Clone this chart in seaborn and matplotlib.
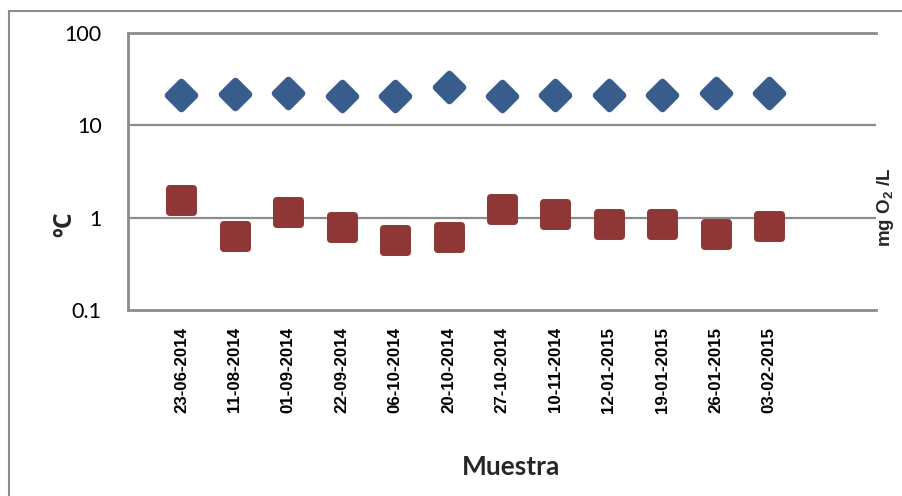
import numpy as np
import pandas as pd
import matplotlib
matplotlib.use("Agg")
import matplotlib.pyplot as plt
from matplotlib.patches import Rectangle
import seaborn as sns

# Sampling dates (category axis)
fechas = ["23-06-2014", "11-08-2014", "01-09-2014", "22-09-2014", "06-10-2014",
          "20-10-2014", "27-10-2014", "10-11-2014", "12-01-2015", "19-01-2015",
          "26-01-2015", "03-02-2015"]
# Water temperature (ºC)
temperatura = [21.1, 21.7, 22.2, 21.0, 20.6, 26.1, 20.6, 21.5, 21.5, 21.1, 22.4, 22.4]
# Dissolved oxygen (mg O2/L)
oxigeno = [1.56, 0.64, 1.14, 0.79, 0.58, 0.62, 1.24, 1.10, 0.86, 0.85, 0.67, 0.82]
# Y-axis ticks
y_ticks = [0.1, 1, 10, 100]
y_tick_labels = ["0.1", "1", "10", "100"]

sns.set_theme(style="white")
plt.rcParams["mathtext.fontset"] = "custom"
plt.rcParams["mathtext.bf"] = "Liberation Sans:bold"
plt.rcParams["mathtext.rm"] = "Liberation Sans:bold"

df_t = pd.DataFrame({"fecha": fechas, "valor": temperatura})
df_o = pd.DataFrame({"fecha": fechas, "valor": oxigeno})

W, H = 902, 496
fig = plt.figure(figsize=(W / 100, H / 100), dpi=100)
ax = fig.add_axes([128 / W, 1 - 310 / H, (876 - 128) / W, (310 - 33) / H])

blue = "#385d8c"
red = "#8e3736"

sns.scatterplot(data=df_t, x="fecha", y="valor", marker="D", s=185,
                color=blue, edgecolor=blue, linewidth=5, ax=ax, legend=False, zorder=3)
sns.scatterplot(data=df_o, x="fecha", y="valor", marker="s", s=300,
                color=red, edgecolor=red, linewidth=5, ax=ax, legend=False, zorder=3)
for coll in ax.collections:
    coll.set_joinstyle("round")

ax.set_yscale("log")
ax.set_ylim(0.1, 100)
ax.set_xlim(-1, 13)
ax.set_yticks(y_ticks)
ax.set_yticklabels(y_tick_labels)
ax.yaxis.set_minor_locator(matplotlib.ticker.NullLocator())
ax.tick_params(axis="y", length=0, pad=19, labelsize=15.5, labelcolor="black")
for lab in ax.get_yticklabels():
    lab.set_fontfamily("Lato")

ax.set_xticks(range(len(fechas)))
ax.set_xticklabels(fechas, rotation=90, va="top", ha="center")
ax.tick_params(axis="x", length=0, pad=12)
for lab in ax.get_xticklabels():
    lab.set_fontfamily("Liberation Sans")
    lab.set_fontweight("bold")
    lab.set_fontsize(12.2)
    lab.set_color("black")

ax.set_xlabel("")
ax.set_ylabel("")

# Horizontal gridlines at 1 and 10
for yv in [1, 10]:
    ax.axhline(yv, color="#8c8c8c", lw=1.6, zorder=1)

for side in ["left", "top", "bottom"]:
    ax.spines[side].set_color("#8c8c8c")
    ax.spines[side].set_linewidth(2)
ax.spines["right"].set_visible(False)

fig.text(65 / W, 1 - 224 / H, "ºC", rotation=90, ha="center", va="center",
         fontsize=18, fontweight="bold", family="Open Sans")
fig.text(885 / W, 1 - 207 / H, r"mg O$_\mathbf{2}$ /L", rotation=90, ha="center",
         va="center", fontsize=13.5, fontweight="bold", family="Liberation Sans")
fig.text(511 / W, 1 - 467 / H, "Muestra", ha="center", va="center",
         fontsize=19, fontweight="bold", family="Lato")

# Outer chart frame
fig.patches.append(Rectangle((9 / W, -0.2), 1.0, 1.2 - 11 / H, transform=fig.transFigure,
                             fill=False, edgecolor="#8c8c8c", lw=1.5))

fig.savefig("out.png", dpi=100, facecolor="white")
